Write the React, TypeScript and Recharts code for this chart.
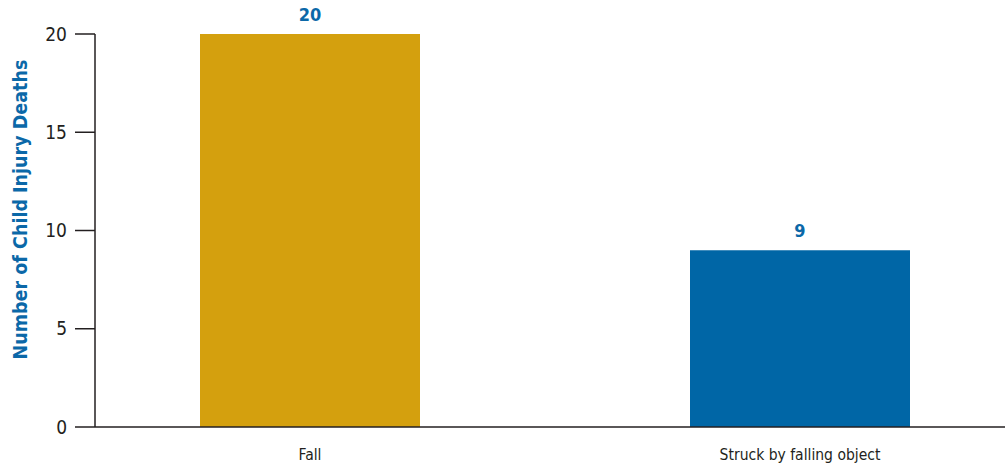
import { BarChart, Bar, XAxis, YAxis, Cell, LabelList } from 'recharts';

const categories = ['Fall', 'Struck by falling object'];
const deaths = [20, 9];
const yTicks = [0, 5, 10, 15, 20];
const COLORS = ['#D4A00E', '#0066A6'];

const data = categories.map((name, i) => ({ name, value: deaths[i] }));

const FONT = '"Liberation Sans Narrow", "DejaVu Sans Condensed", Arial, sans-serif';

function YLabel({ viewBox }: any) {
  const cx = 20;
  const cy = viewBox ? viewBox.y + viewBox.height / 2 - 21 : 210;
  return (
    <text
      x={cx}
      y={cy}
      transform={`rotate(-90, ${cx}, ${cy})`}
      textAnchor="middle"
      dominantBaseline="central"
      fill="#0B68A8"
      fontFamily={FONT}
      fontWeight="bold"
      fontSize={19.5}
    >
      Number of Child Injury Deaths
    </text>
  );
}

export default function App() {
  return (
    <div style={{ position: 'absolute', left: 0, top: 0, background: '#fff' }}>
      <BarChart
        width={1005}
        height={467}
        data={data}
        margin={{ top: 34, right: 0, bottom: 0, left: 0 }}
      >
        <XAxis
          dataKey="name"
          height={40}
          padding={{ left: -30, right: -40 }}
          tickLine={false}
          axisLine={{ stroke: '#231F20', strokeWidth: 1.5 }}
          tick={{ fill: '#231F20', fontSize: 15.5, fontFamily: FONT }}
          tickMargin={16}
        />
        <YAxis
          width={95}
          domain={[0, 20]}
          ticks={yTicks}
          tickSize={20}
          tickMargin={8}
          axisLine={{ stroke: '#231F20', strokeWidth: 1.5 }}
          tickLine={{ stroke: '#231F20', strokeWidth: 1.5 }}
          tick={{ fill: '#231F20', fontSize: 19, fontFamily: FONT }}
          label={<YLabel />}
        />
        <Bar dataKey="value" barSize={220} isAnimationActive={false}>
          {data.map((_, i) => (
            <Cell key={i} fill={COLORS[i]} />
          ))}
          <LabelList
            dataKey="value"
            position="top"
            offset={13}
            fill="#0B68A8"
            fontFamily={FONT}
            fontWeight="bold"
            fontSize={18}
          />
        </Bar>
      </BarChart>
    </div>
  );
}
